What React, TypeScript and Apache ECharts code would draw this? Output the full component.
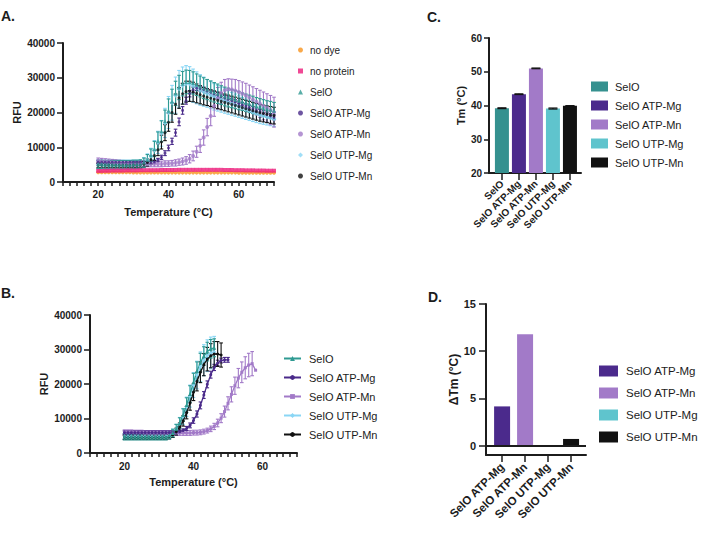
import React, { useEffect, useRef } from 'react';
import * as echarts from 'echarts';

// ---------- Data ----------
const TEMP = [20,21,22,23,24,25,26,27,28,29,30,31,32,33,34,35,36,37,38,39,40,41,42,43,44,45,46,47,48,49,50,51,52,53,54,55,56,57,58,59,60,61,62,63,64,65,66,67,68,69,70];

// Panel A (RFU, 20..70 °C)
const A_NO_DYE = [2800,2800,2800,2800,2800,2800,2800,2800,2800,2800,2750,2750,2750,2750,2750,2750,2750,2750,2750,2750,2700,2700,2700,2700,2700,2700,2700,2700,2700,2700,2700,2700,2700,2700,2700,2700,2700,2700,2700,2700,2650,2650,2650,2650,2650,2650,2650,2650,2650,2650,2650];
const A_NO_PROTEIN = [3200,3200,3250,3250,3300,3300,3300,3300,3350,3350,3350,3350,3400,3400,3400,3400,3400,3400,3450,3450,3450,3450,3450,3500,3500,3500,3500,3500,3500,3500,3500,3500,3500,3500,3500,3500,3450,3450,3450,3400,3400,3400,3350,3350,3350,3300,3300,3300,3250,3250,3250];
const A_SELO = [5100,5100,5000,5000,5000,5000,5000,5000,5000,5000,5100,5100,5200,5600,6400,7700,9500,11800,14600,17500,20500,23200,25500,27200,28300,28800,28800,28500,28000,27500,27000,26600,26200,25800,25400,25000,24600,24300,24000,23700,23400,23100,22800,22500,22200,21900,21600,21300,21000,20800,20500];
const A_SELO_ERR = [1200,1200,1200,1200,1200,1200,1200,1200,1200,1200,1200,1200,1200,1300,1500,1800,2200,2600,3000,3200,3400,3500,3500,3500,3500,3400,3300,3200,3100,3000,3000,2900,2900,2800,2800,2700,2700,2700,2600,2600,2600,2500,2500,2500,2500,2400,2400,2400,2400,2400,2400];
const A_ATP_MG = [5700,5700,5700,5700,5700,5700,5700,5700,5700,5700,5600,5600,5600,5600,5600,5600,5800,6300,7100,8300,9800,11700,14200,17300,20600,23400,25400,26500,27000,26900,26600,26200,25800,25400,25000,24600,24200,23800,23400,23000,22600,22200,21800,21400,21000,20600,20200,19800,19400,19000,18600];
const A_ATP_MG_ERR = [400,400,400,400,400,400,400,400,400,400,400,400,400,400,400,400,400,500,600,700,800,900,1000,1100,1100,1000,900,800,700,700,700,700,700,700,700,700,700,700,700,700,700,700,700,700,700,700,700,700,700,700,700];
const A_ATP_MN = [6100,6000,5900,5800,5700,5600,5500,5400,5300,5300,5200,5200,5200,5200,5200,5200,5200,5200,5200,5300,5300,5400,5500,5700,5900,6200,6700,7500,8700,10400,12800,15800,19000,21900,24100,25600,26400,26700,26600,26300,25900,25400,24900,24300,23700,23100,22500,21900,21300,20700,20100];
const A_ATP_MN_ERR = [800,800,800,800,800,800,800,800,800,800,800,800,800,800,800,800,800,800,800,800,800,800,900,900,1000,1100,1200,1400,1600,1900,2200,2500,2800,3000,3100,3100,3100,3000,3000,3200,3300,3400,3500,3600,3700,3800,3900,4000,4100,4200,4300];
const A_UTP_MG = [5000,5000,5000,5000,5000,5000,5000,5000,5000,5000,5000,5000,5000,5500,6300,7500,9200,11400,14000,17000,20000,22800,25000,26800,27800,28300,28200,27700,27100,26500,26000,25500,25000,24500,24100,23700,23300,22900,22500,22100,21700,21300,20900,20500,20100,19700,19300,19000,18700,18400,18100];
const A_UTP_MG_ERR = [1300,1300,1300,1300,1300,1300,1300,1300,1300,1300,1300,1300,1300,1500,1800,2200,2700,3200,3700,4200,4600,5000,5200,5300,5300,5200,5000,4800,4600,4400,4200,4000,3900,3800,3700,3600,3500,3400,3300,3200,3100,3000,2900,2800,2700,2600,2500,2400,2300,2200,2100];
const A_UTP_MN = [4800,4800,4800,4800,4800,4800,4800,4800,4800,4800,4800,4800,4800,5100,5600,6400,7600,9300,11500,14200,17200,20000,22400,24200,25400,26000,26100,25900,25500,25100,24700,24400,24100,23800,23500,23200,22900,22600,22300,22000,21700,21400,21100,20800,20500,20200,19900,19700,19500,19300,19100];
const A_UTP_MN_ERR = [700,700,700,700,700,700,700,700,700,700,700,700,700,800,1000,1200,1400,1700,2000,2300,2600,2800,2900,3000,3000,3000,2900,2800,2700,2600,2500,2400,2400,2400,2400,2400,2400,2400,2400,2400,2400,2400,2400,2400,2400,2400,2400,2400,2400,2400,2400];

// Panel B (RFU, from 20 °C, each run ends earlier)
const B_SELO = [4700,4700,4700,4700,4700,4700,4700,4700,4700,4700,4700,4700,4700,5100,5800,7000,8700,11000,13900,17100,20500,23700,26200,28100,29400,30200,30500];
const B_SELO_ERR = [900,900,900,900,900,900,900,900,900,900,900,900,900,1000,1100,1300,1500,1800,2100,2400,2600,2700,2700,2700,2700,2700,2600];
const B_ATP_MG = [5900,5900,5900,5900,5900,5900,5900,5900,5900,5900,5900,5900,5900,5900,5900,6000,6200,6500,7100,8000,9400,11300,13800,16800,19900,22700,24800,26100,26800,27000,27000];
const B_ATP_MG_ERR = [500,500,500,500,500,500,500,500,500,500,500,500,500,500,500,500,500,500,600,700,800,900,1000,1000,1000,1000,900,800,700,700,700];
const B_ATP_MN = [6000,6000,6000,5900,5900,5900,5800,5800,5800,5800,5800,5800,5800,5800,5800,5800,5800,5800,5800,5800,5900,5900,6000,6200,6500,7000,7700,8700,10100,12000,14400,17000,19500,21700,23400,24700,25500,25900,24000];
const B_ATP_MN_ERR = [700,700,700,700,700,700,700,700,700,700,700,700,700,700,700,700,700,700,700,700,700,700,700,700,700,800,900,1100,1300,1600,1900,2200,2500,2800,3000,3200,3400,3500,0];
const B_UTP_MG = [4800,4800,4800,4800,4800,4800,4800,4800,4800,4800,4800,4800,4800,5100,5700,6800,8400,10600,13400,16500,19700,22600,25000,26900,28200,29000,29300];
const B_UTP_MG_ERR = [900,900,900,900,900,900,900,900,900,900,900,900,900,1000,1200,1500,1900,2300,2800,3200,3600,4000,4300,4500,4600,4600,4500];
const B_UTP_MN = [4500,4500,4500,4500,4500,4500,4500,4500,4500,4500,4500,4500,4500,4800,5300,6200,7500,9300,11700,14500,17600,20700,23400,25600,27200,28200,28700,28700,28400];
const B_UTP_MN_ERR = [600,600,600,600,600,600,600,600,600,600,600,600,600,700,800,1000,1200,1500,1800,2100,2400,2700,3000,3200,3400,3500,3600,3600,3500];

// Panel C (Tm, °C)
const CAT_C = ['SelO', 'SelO ATP-Mg', 'SelO ATP-Mn', 'SelO UTP-Mg', 'SelO UTP-Mn'];
const TM_C = [39.2, 43.35, 51.0, 39.1, 39.9];
const TM_ERR_C = [0.12, 0.1, 0.1, 0.15, 0.05];
const COL_C = ['#35918f', '#4b2a8c', '#a27ac8', '#5fc4cd', '#111111'];

// Panel D (ΔTm, °C)
const CAT_D = ['SelO ATP-Mg', 'SelO ATP-Mn', 'SelO UTP-Mg', 'SelO UTP-Mn'];
const DTM_D = [4.15, 11.8, -0.1, 0.7];
const COL_D = ['#4b2a8c', '#a27ac8', '#5fc4cd', '#111111'];

// ---------- Styling ----------
const FONT = '"Liberation Sans", Arial, Helvetica, sans-serif';
const INK = '#1c1c1c';
const C_TEAL = '#2f9a92';
const C_DPURPLE = '#4a2a8a';
const C_LPURPLE = '#a27ac8';
const C_SKY = '#8ad6f5';
const C_BLACK = '#111111';
const C_ORANGE = '#f7941d';
const C_PINK = '#ec1c7a';

const pts = (vals: number[]) => vals.map((v, i) => [TEMP[i], v]);
const errPts = (vals: number[], errs: number[]) => vals.map((v, i) => [TEMP[i], v, errs[i]]);

const errRender = (color: string, cap: number, lw = 1) => (_p: any, api: any) => {
  const x = api.value(0), y = api.value(1), e = api.value(2);
  if (!e) return { type: 'group', children: [] };
  const top = api.coord([x, y + e]);
  const bot = api.coord([x, y - e]);
  const st = { stroke: color, lineWidth: lw };
  return {
    type: 'group',
    children: [
      { type: 'line', shape: { x1: top[0], y1: top[1], x2: bot[0], y2: bot[1] }, style: st },
      { type: 'line', shape: { x1: top[0] - cap, y1: top[1], x2: top[0] + cap, y2: top[1] }, style: st },
      { type: 'line', shape: { x1: bot[0] - cap, y1: bot[1], x2: bot[0] + cap, y2: bot[1] }, style: st },
    ],
  };
};

function valAxis(o: any) {
  return {
    type: 'value', gridIndex: o.grid, min: o.min, max: o.max, interval: o.interval,
    name: o.name, nameLocation: 'middle', nameGap: o.nameGap,
    nameTextStyle: { color: INK, fontWeight: 'bold', fontSize: o.nameSize ?? 11, fontFamily: FONT },
    axisLine: { show: true, onZero: false, lineStyle: { color: INK, width: 2 } },
    axisTick: { show: true, length: o.tickLen, lineStyle: { color: INK, width: 1.5 }, customValues: o.ticks },
    axisLabel: {
      show: true, margin: o.labelMargin, color: INK, fontWeight: 'bold', fontSize: o.labelSize ?? 10,
      fontFamily: FONT, rotate: o.rotate ?? 0, formatter: o.formatter, customValues: o.ticks,
    },
    splitLine: { show: false },
  };
}

const stripPrefix = (n: string) => n.slice(2);

function curveSeries(prefix: string, grid: number, name: string, vals: number[], errs: number[] | null,
  color: string, symbol: string, size: number, asLine: boolean, cap: number) {
  const out: any[] = [];
  if (errs) {
    out.push({
      type: 'custom', name: prefix + name + ' err', xAxisIndex: grid, yAxisIndex: grid,
      renderItem: errRender(color, cap, 1.1), data: errPts(vals, errs), encode: { x: 0, y: 1 }, silent: true,
    });
  }
  out.push({
    type: asLine ? 'line' : 'scatter', name: prefix + name, xAxisIndex: grid, yAxisIndex: grid,
    data: pts(vals), symbol, symbolSize: size, showSymbol: true,
    itemStyle: { color }, lineStyle: { color, width: 1.3 }, silent: true,
  });
  return out;
}

function buildOption(): any {
  const fmtX = (v: number) => (v === 20 || v === 40 || v === 60 ? String(v) : '');
  const series: any[] = [];

  // Panel A
  series.push(...curveSeries('A:', 0, 'no dye', A_NO_DYE, null, C_ORANGE, 'circle', 4, false, 1.8));
  series.push(...curveSeries('A:', 0, 'no protein', A_NO_PROTEIN, null, C_PINK, 'rect', 4, false, 1.8));
  series.push(...curveSeries('A:', 0, 'SelO UTP-Mg', A_UTP_MG, A_UTP_MG_ERR, C_SKY, 'diamond', 5, false, 1.8));
  series.push(...curveSeries('A:', 0, 'SelO ATP-Mn', A_ATP_MN, A_ATP_MN_ERR, C_LPURPLE, 'circle', 4, false, 1.8));
  series.push(...curveSeries('A:', 0, 'SelO ATP-Mg', A_ATP_MG, A_ATP_MG_ERR, C_DPURPLE, 'circle', 3, false, 1.8));
  series.push(...curveSeries('A:', 0, 'SelO UTP-Mn', A_UTP_MN, A_UTP_MN_ERR, C_BLACK, 'circle', 3, false, 1.8));
  series.push(...curveSeries('A:', 0, 'SelO', A_SELO, A_SELO_ERR, C_TEAL, 'triangle', 4, false, 1.8));

  // Panel B
  series.push(...curveSeries('B:', 1, 'SelO UTP-Mg', B_UTP_MG, B_UTP_MG_ERR, C_SKY, 'diamond', 4, true, 1.8));
  series.push(...curveSeries('B:', 1, 'SelO ATP-Mn', B_ATP_MN, B_ATP_MN_ERR, C_LPURPLE, 'rect', 3, true, 1.8));
  series.push(...curveSeries('B:', 1, 'SelO ATP-Mg', B_ATP_MG, B_ATP_MG_ERR, C_DPURPLE, 'circle', 3, true, 1.8));
  series.push(...curveSeries('B:', 1, 'SelO UTP-Mn', B_UTP_MN, B_UTP_MN_ERR, C_BLACK, 'circle', 3, true, 1.8));
  series.push(...curveSeries('B:', 1, 'SelO', B_SELO, B_SELO_ERR, C_TEAL, 'triangle', 4, true, 1.8));

  // Panel C bars
  CAT_C.forEach((c, i) => {
    series.push({
      type: 'bar', name: 'C:' + c, xAxisIndex: 2, yAxisIndex: 2, barWidth: 14, barGap: '-100%',
      data: [[i, TM_C[i]]], itemStyle: { color: COL_C[i] }, silent: true,
    });
  });
  series.push({
    type: 'custom', name: 'C:err', xAxisIndex: 2, yAxisIndex: 2, renderItem: errRender('#111', 4.5, 1.2),
    data: TM_C.map((v, i) => [i, v, TM_ERR_C[i]]), encode: { x: 0, y: 1 }, silent: true, z: 5,
  });

  // Panel D bars
  CAT_D.forEach((c, i) => {
    series.push({
      type: 'bar', name: 'D:' + c, xAxisIndex: 3, yAxisIndex: 3, barWidth: 16, barGap: '-100%',
      data: [[i, DTM_D[i]]], itemStyle: { color: COL_D[i] }, silent: true,
      markLine: i === 0 ? {
        silent: true, symbol: 'none', label: { show: false },
        lineStyle: { color: INK, width: 2, type: 'solid' }, data: [{ yAxis: 0 }],
      } : undefined,
    });
  });

  const legendBase = { orient: 'vertical', padding: 0, selectedMode: false, formatter: stripPrefix };
  const legText = (size: number, lh: number, padL: number) => ({
    fontSize: size, lineHeight: lh, color: INK, fontFamily: FONT, fontWeight: 'normal', padding: [0, 0, 0, padL],
  });

  return {
    animation: false,
    backgroundColor: '#ffffff',
    textStyle: { fontFamily: FONT },
    title: [
      { text: 'A.', left: 1, top: 9, padding: 0, textStyle: { fontSize: 14, fontWeight: 'bold', color: INK, fontFamily: FONT } },
      { text: 'B.', left: 1, top: 286, padding: 0, textStyle: { fontSize: 14, fontWeight: 'bold', color: INK, fontFamily: FONT } },
      { text: 'C.', left: 427, top: 10, padding: 0, textStyle: { fontSize: 14, fontWeight: 'bold', color: INK, fontFamily: FONT } },
      { text: 'D.', left: 428, top: 290, padding: 0, textStyle: { fontSize: 14, fontWeight: 'bold', color: INK, fontFamily: FONT } },
    ],
    grid: [
      { left: 63, top: 43, width: 211, height: 139 },
      { left: 90, top: 315, width: 207, height: 138 },
      { left: 489, top: 38, width: 92, height: 135 },
      { left: 486, top: 304, width: 100, height: 151 },
    ],
    xAxis: [
      valAxis({ grid: 0, min: 10, max: 70, interval: 2, name: 'Temperature (°C)', nameGap: 24, tickLen: 4, labelMargin: 7, formatter: fmtX }),
      valAxis({ grid: 1, min: 10, max: 70, interval: 2, name: 'Temperature (°C)', nameGap: 23, tickLen: 4, labelMargin: 8, formatter: fmtX }),
      valAxis({ grid: 2, min: -0.76, max: 4.65, ticks: [0, 1, 2, 3, 4], tickLen: 7, labelMargin: 9, rotate: 45, labelSize: 10,
        formatter: (v: number) => CAT_C[v] ?? '' }),
      valAxis({ grid: 3, min: -0.7, max: 3.65, ticks: [0, 1, 2, 3], tickLen: 7, labelMargin: 10, rotate: 45, labelSize: 11.5,
        formatter: (v: number) => CAT_D[v] ?? '' }),
    ],
    yAxis: [
      valAxis({ grid: 0, min: 0, max: 40000, interval: 10000, name: 'RFU', nameGap: 41, tickLen: 6, labelMargin: 8, formatter: (v: number) => String(v) }),
      valAxis({ grid: 1, min: 0, max: 40000, interval: 10000, name: 'RFU', nameGap: 41, tickLen: 6, labelMargin: 8, formatter: (v: number) => String(v) }),
      valAxis({ grid: 2, min: 20, max: 60, interval: 10, name: 'Tm (°C)', nameGap: 21, tickLen: 5, labelMargin: 7, formatter: (v: number) => String(v) }),
      valAxis({ grid: 3, min: -1, max: 15, ticks: [0, 5, 10, 15], name: 'ΔTm (°C)', nameGap: 26, nameSize: 12, tickLen: 7, labelMargin: 10, labelSize: 11,
        formatter: (v: number) => String(v) }),
    ],
    legend: [
      {
        ...legendBase, left: 298, top: 44, itemWidth: 5, itemHeight: 5, itemGap: 9,
        textStyle: legText(10, 12, 2),
        data: ['A:no dye', 'A:no protein', 'A:SelO', 'A:SelO ATP-Mg', 'A:SelO ATP-Mn', 'A:SelO UTP-Mg', 'A:SelO UTP-Mn'],
      },
      {
        ...legendBase, left: 283, top: 352, itemWidth: 17, itemHeight: 6, itemGap: 6,
        textStyle: legText(11, 13, 3),
        data: ['B:SelO', 'B:SelO ATP-Mg', 'B:SelO ATP-Mn', 'B:SelO UTP-Mg', 'B:SelO UTP-Mn'],
      },
      {
        ...legendBase, left: 591, top: 80, itemWidth: 17, itemHeight: 10, itemGap: 6, icon: 'rect',
        textStyle: legText(11, 13, 2),
        data: CAT_C.map((c) => 'C:' + c),
      },
      {
        ...legendBase, left: 599, top: 364, itemWidth: 19, itemHeight: 11, itemGap: 8, icon: 'rect',
        textStyle: legText(11.5, 14, 3),
        data: CAT_D.map((c) => 'D:' + c),
      },
    ],
    series,
  };
}

export default function App() {
  const ref = useRef<HTMLDivElement>(null);
  useEffect(() => {
    if (!ref.current) return;
    const chart = echarts.init(ref.current, undefined, { renderer: 'svg' });
    chart.setOption(buildOption());
    return () => chart.dispose();
  }, []);
  return (
    <div
      ref={ref}
      style={{ position: 'absolute', left: 0, top: 0, width: 702, height: 533, background: '#fff' }}
    />
  );
}
